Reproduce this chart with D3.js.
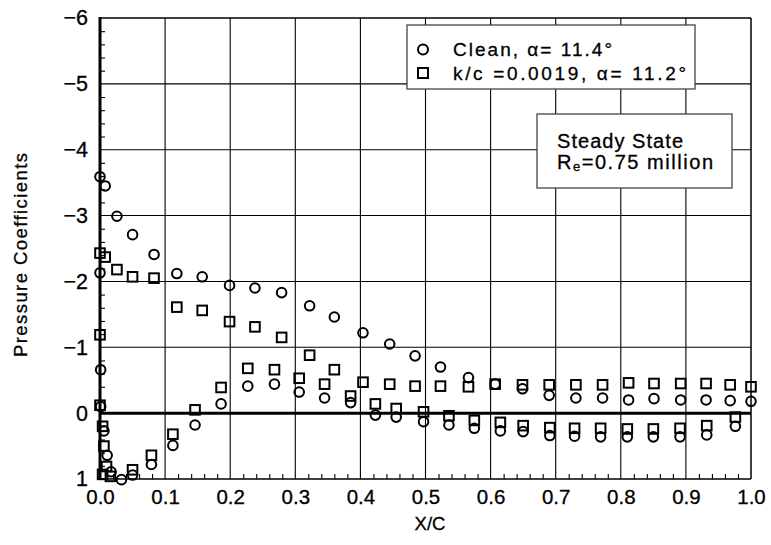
<!DOCTYPE html>
<html>
<head>
<meta charset="utf-8">
<script src="https://cdn.jsdelivr.net/npm/d3@7"></script>
<style>
  body { margin: 0; background: #fff; }
  svg { display: block; font-family: "Liberation Sans", Arial, sans-serif; }
  .heavy { stroke: #000; stroke-width: 0.3px; }
</style>
</head>
<body>
<div id="chart"></div>
<script>
// chordwise stations (x/c) and pressure coefficients
var cleanX = [0.000, 0.008, 0.026, 0.050, 0.083, 0.118, 0.157, 0.199, 0.238, 0.279, 0.322, 0.360, 0.404, 0.445,
              0.484, 0.523, 0.566, 0.607, 0.649, 0.690, 0.731, 0.772, 0.812, 0.851, 0.892, 0.931, 0.968, 1.000,
              0.000, 0.001, 0.001,
              0.006, 0.011, 0.017, 0.033, 0.050, 0.079, 0.112, 0.146, 0.186, 0.227, 0.268, 0.306, 0.345, 0.385,
              0.423, 0.455, 0.497, 0.536, 0.575, 0.615, 0.650, 0.691, 0.729, 0.769, 0.810, 0.850, 0.891, 0.932, 0.976]
var cleanCp = [-3.59, -3.45, -2.99, -2.71, -2.41, -2.12, -2.07, -1.94, -1.90, -1.83, -1.63, -1.46, -1.22, -1.05,
               -0.87, -0.70, -0.54, -0.44, -0.37, -0.27, -0.23, -0.23, -0.20, -0.22, -0.20, -0.20, -0.19, -0.18,
               -2.13, -0.66, -0.10,
               0.27, 0.64, 0.89, 1.01, 0.94, 0.78, 0.49, 0.18, -0.14, -0.41, -0.44, -0.32, -0.23, -0.16,
               0.03, 0.06, 0.13, 0.18, 0.23, 0.27, 0.28, 0.34, 0.35, 0.36, 0.36, 0.36, 0.36, 0.33, 0.20]

var roughX = [0.000, 0.008, 0.026, 0.050, 0.083, 0.118, 0.157, 0.199, 0.238, 0.279, 0.322, 0.360, 0.404, 0.445,
              0.484, 0.523, 0.566, 0.607, 0.649, 0.690, 0.731, 0.772, 0.812, 0.851, 0.892, 0.931, 0.968, 1.000,
              0.000, 0.000,
              0.004, 0.006, 0.010, 0.004, 0.016, 0.050, 0.079, 0.112, 0.146, 0.186, 0.227, 0.268, 0.306, 0.345,
              0.385, 0.423, 0.455, 0.497, 0.536, 0.575, 0.615, 0.650, 0.691, 0.729, 0.769, 0.810, 0.850, 0.891,
              0.932, 0.976]
var roughCp = [-2.43, -2.37, -2.18, -2.07, -2.05, -1.61, -1.56, -1.39, -1.31, -1.15, -0.88, -0.66, -0.47, -0.44,
               -0.41, -0.41, -0.40, -0.44, -0.43, -0.43, -0.43, -0.43, -0.46, -0.45, -0.45, -0.45, -0.43, -0.40,
               -1.19, -0.12,
               0.20, 0.50, 0.81, 0.93, 0.96, 0.86, 0.64, 0.32, -0.05, -0.39, -0.68, -0.66, -0.53, -0.44,
               -0.26, -0.14, -0.07, -0.02, 0.04, 0.11, 0.14, 0.19, 0.22, 0.23, 0.23, 0.24, 0.24, 0.23,
               0.19, 0.06]

var seriesNames = ["Clean, \u03b1= 11.4\u00b0", "k/c =0.0019, \u03b1= 11.2\u00b0"]
var xTicks = [0, 0.1, 0.2, 0.3, 0.4, 0.5, 0.6, 0.7, 0.8, 0.9, 1.0]
var yTicks = [-6, -5, -4, -3, -2, -1, 0, 1]
var noteTitle = "Steady State"

var width = 771, height = 545

var svg = d3.select("#chart")
  .append("svg")
  .attr("width", width)
  .attr("height", height)

var x = d3.scaleLinear().domain([0, 1]).range([100, 751])
var y = d3.scaleLinear().domain([-6, 1]).range([18, 479])

// grid
svg.append("g").selectAll("line")
  .data(xTicks.slice(1, -1))
  .enter().append("line")
  .attr("x1", d => x(d)).attr("x2", d => x(d))
  .attr("y1", y(-6)).attr("y2", y(1))
  .attr("stroke", "#000").attr("stroke-width", 1.1)

svg.append("g").selectAll("line")
  .data(yTicks.filter(d => d != -6 && d != 0 && d != 1))
  .enter().append("line")
  .attr("x1", x(0)).attr("x2", x(1))
  .attr("y1", d => y(d)).attr("y2", d => y(d))
  .attr("stroke", "#000").attr("stroke-width", 1.1)

// minor ticks
var xMinor = d3.range(0, 1.0001, 0.02).filter(d => Math.abs(d * 10 - Math.round(d * 10)) > 1e-6)
var yMinor = d3.range(-6, 1.0001, 0.2).filter(d => Math.abs(d - Math.round(d)) > 1e-6)

svg.append("g")
  .attr("transform", "translate(0," + y(1) + ")")
  .call(d3.axisBottom(x).tickValues(xMinor).tickSize(-5).tickFormat(""))
  .call(g => g.select(".domain").remove())
  .selectAll("line").attr("stroke-width", 1.1)

svg.append("g")
  .attr("transform", "translate(" + x(0) + ",0)")
  .call(d3.axisLeft(y).tickValues(yMinor).tickSize(-5).tickFormat(""))
  .call(g => g.select(".domain").remove())
  .selectAll("line").attr("stroke-width", 1.1)

// tick labels
var xAxis = svg.append("g")
  .attr("transform", "translate(0," + y(1) + ")")
  .call(d3.axisBottom(x).tickValues(xTicks).tickSize(0).tickPadding(10).tickFormat(d3.format(".1f")))
xAxis.select(".domain").remove()
xAxis.selectAll("text").attr("font-size", 20.5).attr("fill", "#000").attr("class", "heavy")
  .attr("font-family", "Liberation Sans, Arial, sans-serif")

var yAxis = svg.append("g")
  .attr("transform", "translate(" + x(0) + ",0)")
  .call(d3.axisLeft(y).tickValues(yTicks).tickSize(0).tickPadding(12)
    .tickFormat(d => d < 0 ? "\u2212" + (-d) : String(d)))
yAxis.select(".domain").remove()
yAxis.selectAll("text").attr("font-size", 21.5).attr("fill", "#000").attr("class", "heavy")
  .attr("font-family", "Liberation Sans, Arial, sans-serif")

// frame
svg.append("line").attr("x1", x(0)).attr("x2", x(1)).attr("y1", y(-6)).attr("y2", y(-6))
  .attr("stroke", "#000").attr("stroke-width", 1.5)
svg.append("line").attr("x1", x(1)).attr("x2", x(1)).attr("y1", y(-6)).attr("y2", y(1))
  .attr("stroke", "#000").attr("stroke-width", 1.5)
svg.append("line").attr("x1", x(0)).attr("x2", x(1)).attr("y1", y(1)).attr("y2", y(1))
  .attr("stroke", "#000").attr("stroke-width", 1.6)
svg.append("line").attr("x1", x(0)).attr("x2", x(1)).attr("y1", y(0)).attr("y2", y(0))
  .attr("stroke", "#000").attr("stroke-width", 3)
svg.append("line").attr("x1", x(0)).attr("x2", x(0)).attr("y1", y(-6) - 1).attr("y2", y(1))
  .attr("stroke", "#000").attr("stroke-width", 3)

// data markers
var ms = 4.8
svg.append("g").selectAll("rect")
  .data(roughX.map((d, i) => [d, roughCp[i]]))
  .enter().append("rect")
  .attr("x", d => x(d[0]) - ms).attr("y", d => y(d[1]) - ms)
  .attr("width", ms * 2).attr("height", ms * 2)
  .attr("fill", "none").attr("stroke", "#000").attr("stroke-width", 2)

svg.append("g").selectAll("circle")
  .data(cleanX.map((d, i) => [d, cleanCp[i]]))
  .enter().append("circle")
  .attr("cx", d => x(d[0])).attr("cy", d => y(d[1]))
  .attr("r", ms)
  .attr("fill", "none").attr("stroke", "#000").attr("stroke-width", 2)

// legend
var legend = svg.append("g")
legend.append("rect")
  .attr("x", 407).attr("y", 25).attr("width", 288).attr("height", 64)
  .attr("fill", "#fff").attr("stroke", "#444").attr("stroke-width", 1.3)
legend.append("circle").attr("cx", 423).attr("cy", 49.5).attr("r", ms + 0.2)
  .attr("fill", "none").attr("stroke", "#000").attr("stroke-width", 2)
legend.append("rect").attr("x", 423 - ms - 0.2).attr("y", 73 - ms - 0.2)
  .attr("width", ms * 2 + 0.4).attr("height", ms * 2 + 0.4)
  .attr("fill", "none").attr("stroke", "#000").attr("stroke-width", 2)
legend.selectAll("text")
  .data(seriesNames)
  .enter().append("text")
  .attr("class", "heavy")
  .attr("x", 453).attr("y", (d, i) => 55.5 + i * 24.5)
  .attr("font-size", 19)
  .attr("textLength", (d, i) => i == 0 ? 159 : 233)
  .attr("lengthAdjust", "spacing")
  .text(d => d)

// note box
var note = svg.append("g")
note.append("rect")
  .attr("x", 537).attr("y", 114).attr("width", 195).attr("height", 74)
  .attr("fill", "#fff").attr("stroke", "#444").attr("stroke-width", 1.3)
note.append("text").attr("class", "heavy").attr("x", 557).attr("y", 148).attr("font-size", 20)
  .attr("textLength", 126).attr("lengthAdjust", "spacing")
  .text(noteTitle)
var re = note.append("text").attr("class", "heavy").attr("x", 557).attr("y", 168.5).attr("font-size", 20)
  .attr("textLength", 156).attr("lengthAdjust", "spacing")
re.append("tspan").text("R")
re.append("tspan").attr("font-size", 13).attr("dy", 2).text("e")
re.append("tspan").attr("dy", -2).text("=0.75 million")

// axis titles
svg.append("text")
  .attr("class", "heavy")
  .attr("transform", "translate(27,255) rotate(-90)")
  .attr("text-anchor", "middle")
  .attr("font-size", 18.5)
  .attr("textLength", 204).attr("lengthAdjust", "spacing")
  .text("Pressure Coefficients")

svg.append("text")
  .attr("class", "heavy")
  .attr("x", 430).attr("y", 530)
  .attr("text-anchor", "middle")
  .attr("font-size", 18.5)
  .text("X/C")
</script>
</body>
</html>
